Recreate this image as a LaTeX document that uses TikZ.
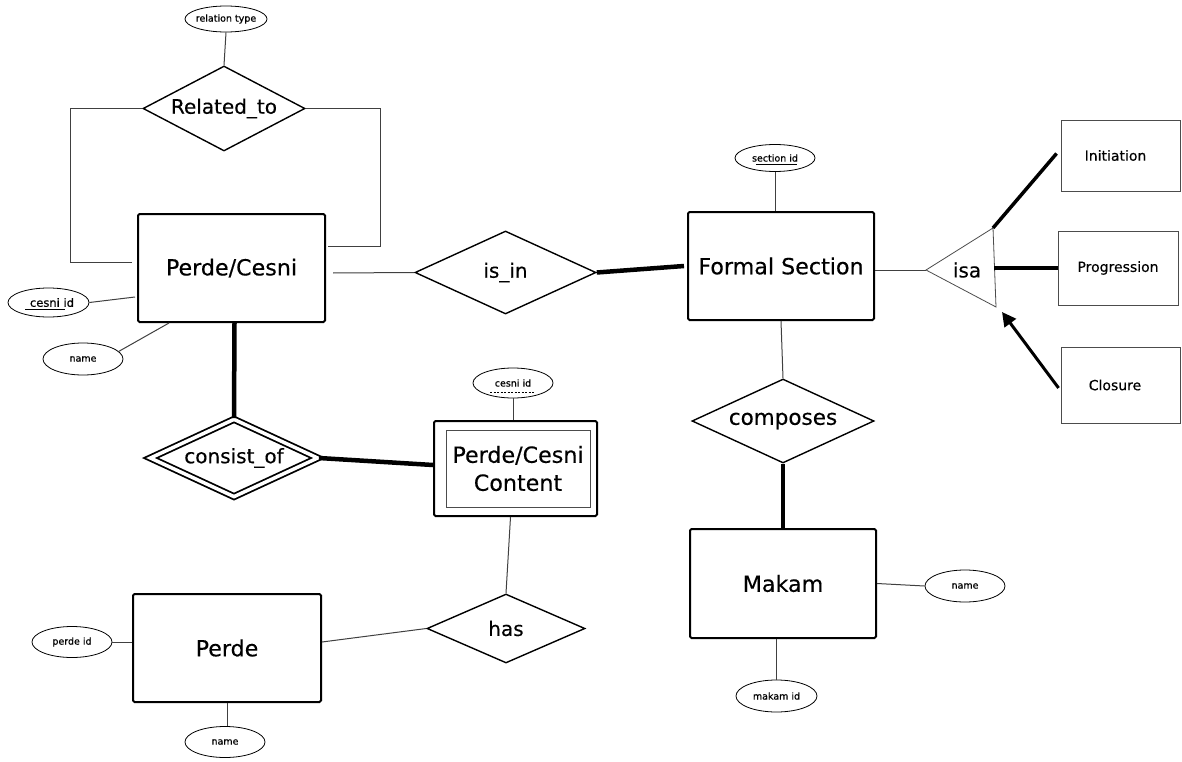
\documentclass[tikz,border=0pt]{standalone}
\usepackage{fontspec}
\setmainfont{DejaVu Sans}
\newfontfamily\attfont[FakeBold=0.6]{DejaVu Sans}
\newfontfamily\bigfont[FakeBold=0.3]{DejaVu Sans}
\usetikzlibrary{shapes.geometric,arrows.meta}
\begin{document}
\begin{tikzpicture}[x=1pt,y=-1pt,
  ent/.style={draw, line width=2pt, rounded corners=1.5pt, fill=white, inner sep=0pt, font=\bigfont\fontsize{22.2}{26}\selectfont},
  rel/.style={draw, diamond, line width=1.4pt, inner sep=0pt, fill=white, font=\bigfont\fontsize{20}{24}\selectfont},
  att/.style={draw, ellipse, line width=0.8pt, inner sep=-3pt, fill=white, font=\attfont\fontsize{9.5}{11}\selectfont},
  subent/.style={draw=black!70, line width=0.9pt, inner sep=0pt, fill=white, font=\bigfont\fontsize{14}{17}\selectfont},
  thinln/.style={line width=1pt, draw=black!75},
  thickln/.style={line width=4.5pt, draw=black}]
\path[fill=white,use as bounding box] (0,0) rectangle (1182,762);

% entities
\node[ent, minimum width=187pt, minimum height=108pt] (pc) at (231.5,268) {Perde/Cesni};
\node[ent, minimum width=186pt, minimum height=108pt] (fs) at (781,266) {Formal Section};
\node[ent, minimum width=186pt, minimum height=109pt] (makam) at (783,583.5) {Makam};
\node[ent, minimum width=188pt, minimum height=108pt] (perde) at (227,648) {Perde};
\node[ent, minimum width=163pt, minimum height=95pt] (content) at (515.5,468.5) {};
\node[draw=black!70, line width=0.9pt, inner sep=0pt, minimum width=144pt, minimum height=77pt, align=center, font=\bigfont\fontsize{22.2}{28}\selectfont] (contentin) at (518,468.5) {Perde/Cesni\\Content};

% relationships
\node[rel, aspect=1.9, minimum width=162pt, minimum height=85pt] (related) at (224,108.5) {Related\_to};
\node[rel, aspect=2.2, minimum width=168pt, minimum height=78pt, line width=1.8pt, double, double distance=3.5pt] (consist) at (234,458) {consist\_of};
\node[rel, aspect=2.2, minimum width=181pt, minimum height=83pt] (isin) at (505.5,272.5) {is\_in};
\node[rel, aspect=2.2, minimum width=182pt, minimum height=84pt, font=\bigfont\fontsize{21.5}{24}\selectfont] (comp) at (783,421) {composes};
\node[rel, aspect=2.3, minimum width=158pt, minimum height=69pt] (has) at (506,628.5) {has};

% attributes
\node[att, minimum width=82pt, minimum height=26pt] (rtype) at (226,19) {relation type};
\node[att, minimum width=81pt, minimum height=29pt, font=\attfont\fontsize{11.5}{13}\selectfont] (cid) at (48.5,302.5) {\hspace{7pt}cesni id};
\node[att, minimum width=80pt, minimum height=32pt] (pcname) at (83,359) {name};
\node[att, minimum width=80pt, minimum height=27pt] (sid) at (775,158) {section id};
\node[att, minimum width=80pt, minimum height=30pt] (ccid) at (513,383) {cesni id};
\node[att, minimum width=80pt, minimum height=32pt] (mname) at (965,586) {name};
\node[att, minimum width=81pt, minimum height=32pt] (mid) at (776.5,696) {makam id};
\node[att, minimum width=80pt, minimum height=31pt] (pid) at (72,642) {perde id};
\node[att, minimum width=80pt, minimum height=31pt] (pname) at (225,742) {name};

% key underlines
\draw[line width=0.8pt] (25,309.5) -- (65,309.5);
\draw[line width=0.8pt] (756,164) -- (797,164);
\draw[line width=0.8pt, dash pattern=on 2pt off 1.5pt] (490,392) -- (534,392);

% isa triangle and subclasses
\coordinate (isaTip) at (926,270);
\coordinate (isaTop) at (993,228);
\coordinate (isaBot) at (996,307);
\coordinate (isaMid) at (994,268);
\coordinate (isaArr) at (1002,312);
\draw[line width=0.8pt, draw=black!70] (isaTip) -- (isaTop) -- (isaBot) -- cycle;
\node[font=\bigfont\fontsize{20}{24}\selectfont, inner sep=0pt] (isa) at (967,270) {isa};
\node[subent, minimum width=119pt, minimum height=71pt] (init) at (1120.5,155.5) {\hspace{-10pt}Initiation};
\node[subent, minimum width=120pt, minimum height=74pt] (prog) at (1118,268) {Progression};
\node[subent, minimum width=119pt, minimum height=76pt] (clos) at (1120.5,385) {\hspace{-11pt}Closure};

% connectors
\draw[thinln] (rtype.south) -- (related.north);
\draw[thinln] (related.west) -- (70,108.5) -- (70,262) -- ([xshift=-5pt,yshift=6pt]pc.west);
\draw[thinln] (related.east) -- (380,108.5) -- (380,246) -- ([xshift=2pt,yshift=22pt]pc.east);
\draw[thinln] (cid.east) -- ([xshift=-2pt,yshift=-29pt]pc.west);
\draw[thinln] (pcname.12) -- ([xshift=32pt]pc.south west);
\draw[thickln] ([xshift=3pt]pc.south) -- (consist.north);
\draw[thickln] (consist.east) -- ([yshift=3.5pt]content.west);
\draw[thinln] ([xshift=7pt,yshift=-5pt]pc.east) -- (isin.west);
\draw[thickln] (isin.east) -- ([xshift=-3pt]fs.west);
\draw[thinln] (sid.south) -- (sid.south |- fs.north);
\draw[thinln] ([yshift=-4pt]fs.east) -- (isaTip);
\draw[line width=3.5pt] (isaTop) -- ([xshift=-4pt,yshift=2pt]init.west);
\draw[line width=3.5pt] (isaMid) -- (prog.west);
\draw[line width=3pt, -{Triangle[length=14pt,width=14pt]}] ([xshift=-2pt,yshift=-3pt]clos.west) -- (isaArr);
\draw[thinln] (fs.south) -- (comp.north);
\draw[thickln] (comp.south) -- (makam.north);
\draw[thinln] (makam.east) -- (mname.west);
\draw[thinln] (mid.north) -- (mid.north |- makam.south);
\draw[thinln] (ccid.south) -- (ccid.south |- content.north);
\draw[thinln] ([xshift=-5pt]content.south) -- (has.north);
\draw[thinln] ([yshift=6pt]perde.east) -- (has.west);
\draw[thinln] (pid.east) -- ([yshift=6pt]perde.west);
\draw[thinln] (perde.south) -- (perde.south |- pname.north);
\end{tikzpicture}
\end{document}
